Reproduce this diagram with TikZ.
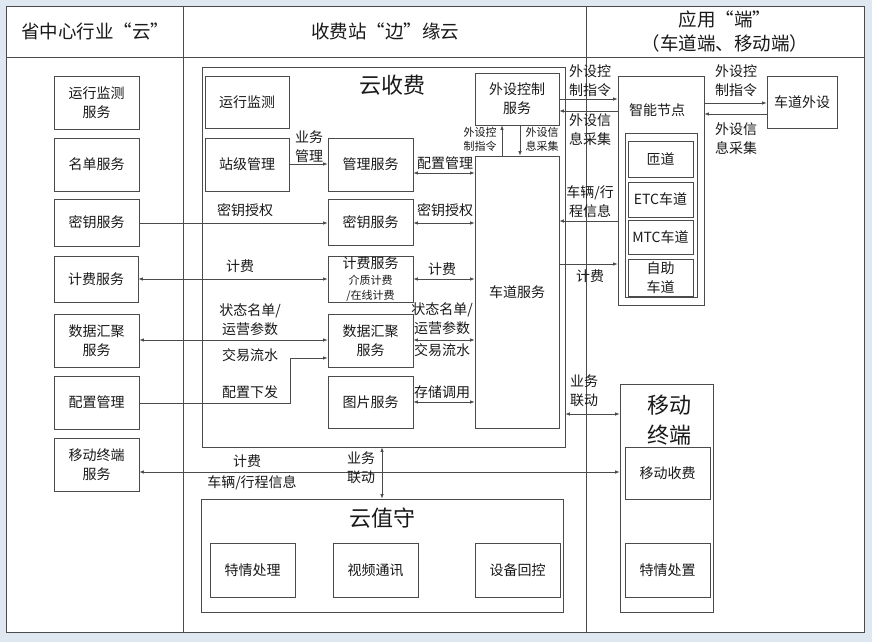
\documentclass[tikz,border=0pt]{standalone}
\usepackage{fontspec}
\setmainfont{Noto Sans CJK SC}
\usetikzlibrary{arrows.meta}
\definecolor{bg}{RGB}{223,231,241}
\definecolor{ln}{RGB}{75,75,75}
\definecolor{tx}{RGB}{25,25,25}
\newcommand\fsz[2]{\fontsize{#1pt}{#2pt}\selectfont}
\newcommand\bx[6]{\node[box,minimum width={#4-#2},minimum height={#5-#3}] (#1) at ({(#2+#4)/2},{(#3+#5)/2}) {#6};}
\begin{document}
\begin{tikzpicture}[x=1pt,y=-1pt,
  box/.style={draw=ln,line width=0.8pt,fill=white,inner sep=0pt,align=center,font=\fsz{14}{19},text=tx},
  lbl/.style={inner sep=0pt,align=center,font=\fsz{14}{19},text=tx},
  sm/.style={inner sep=0pt,align=center,font=\fsz{11}{14},text=tx},
  ttl/.style={inner sep=0pt,align=center,font=\fsz{22}{30},text=tx},
  hdr/.style={inner sep=0pt,align=center,font=\fsz{18.5}{24},text=tx},
  frame/.style={draw=ln,line width=0.9pt},
  arr/.style={draw=ln,line width=0.7pt,-{Latex[length=4.5pt,width=3.5pt]}},
  darr/.style={draw=ln,line width=0.7pt,{Latex[length=4.5pt,width=3.5pt]}-{Latex[length=4.5pt,width=3.5pt]}}]
\useasboundingbox (0,0) rectangle (872,642);
\fill[bg] (0,0) rectangle (872,642);
\draw[frame,fill=white] (6,6) rectangle (864,632);
\draw[frame] (6,57) -- (864,57);
\draw[frame] (183,6) -- (183,632);
\draw[frame] (586,6) -- (586,632);
% headers
\node[hdr] (h1) at (95,31) {省中心行业“云”};
\node[hdr] (h2) at (385,31) {收费站“边”缘云};
\node[hdr] (h3) at (725,32) {应用“端”\\（车道端、移动端）};
% left column
\bx{L1}{54}{76}{139}{129}{运行监测\\服务}
\bx{L2}{54}{138}{139}{191}{名单服务}
\bx{L3}{54}{199}{139}{246}{密钥服务}
\bx{L4}{54}{256}{138}{302}{计费服务}
\bx{L5}{54}{314}{139}{367}{数据汇聚\\服务}
\bx{L6}{54}{376}{139}{429}{配置管理}
\bx{L7}{54}{438}{139}{491}{移动终端\\服务}
% cloud toll
\bx{YSF}{202}{67}{565}{447}{}
\node[ttl] (tYSF) at (392,85) {云收费};
\bx{M0}{205}{76}{289}{128}{运行监测}
\bx{M1}{205}{138}{289}{191}{站级管理}
\bx{M2}{328}{138}{413}{191}{管理服务}
\bx{M3}{328}{199}{413}{245}{密钥服务}
\bx{M4}{328}{256}{413}{302}{}
\node[lbl] (m4a) at (370.5,263) {计费服务};
\node[sm] (m4b) at (370.5,280) {介质计费};
\node[sm] (m4c) at (370.5,296) {/在线计费};
\bx{M5}{328}{314}{413}{367}{数据汇聚\\服务}
\bx{M6}{328}{376}{413}{428}{图片服务}
\bx{PC}{475}{73}{559}{125}{外设控制\\服务}
\bx{LS}{475}{156}{559}{428}{车道服务}
% cloud duty
\bx{YZS}{201}{499}{563}{612}{}
\node[ttl] (tYZS) at (382,518) {云值守};
\bx{Z1}{210}{543}{295}{597}{特情处理}
\bx{Z2}{333}{543}{418}{597}{视频通讯}
\bx{Z3}{475}{543}{560}{597}{设备回控}
% smart node
\bx{ZN}{618}{76}{704}{305}{}
\node[lbl] (tZN) at (657,110) {智能节点};
\bx{ZNi}{625}{133}{697}{297}{}
\bx{R1}{628}{141}{693}{177}{匝道}
\bx{R2}{628}{182}{693}{217}{ETC车道}
\bx{R3}{628}{220}{693}{254}{MTC车道}
\bx{R4}{628}{259}{693}{296}{自助\\车道}
\bx{CW}{767}{76}{837}{128}{车道外设}
% mobile terminal
\bx{YD}{620}{384}{713}{612}{}
\node[ttl] (tYD) at (669,420) {移动\\终端};
\bx{D1}{625}{447}{710}{499}{移动收费}
\bx{D2}{625}{543}{710}{597}{特情处置}
% helper coordinates
\foreach \v in {99,103,111,114,164,173,221,223,264,279,340,358,402,403,414,472}{\coordinate (y\v) at (0,\v);}
\foreach \v in {290,382,502,520}{\coordinate (x\v) at (\v,0);}
% connectors: province <-> station
\draw[arr] (L3.east |- y223) -- (M3.west |- y223);
\draw[darr] (L4.east |- y279) -- (M4.west |- y279);
\draw[darr] (L5.east |- y340) -- (M5.west |- y340);
\draw[arr] (L6.east |- y403) -- (x290 |- y403) -- (x290 |- y358) -- (M5.west |- y358);
\draw[darr] (YD.west |- y472) -- (L7.east |- y472);
% inside cloud toll
\draw[arr] (M1.east |- y164) -- (M2.west |- y164);
\draw[darr] (M2.east |- y173) -- (LS.west |- y173);
\draw[darr] (M3.east |- y223) -- (LS.west |- y223);
\draw[darr] (M4.east |- y279) -- (LS.west |- y279);
\draw[darr] (M5.east |- y340) -- (LS.west |- y340);
\draw[darr] (M6.east |- y402) -- (LS.west |- y402);
\draw[arr] (LS.north -| x502) -- (PC.south -| x502);
\draw[arr] (PC.south -| x520) -- (LS.north -| x520);
% to smart node
\draw[arr] (PC.east |- y99) -- (ZN.west |- y99);
\draw[arr] (ZN.west |- y111) -- (PC.east |- y111);
\draw[arr] (ZN.west |- y221) -- (LS.east |- y221);
\draw[arr] (LS.east |- y264) -- (ZN.west |- y264);
\draw[arr] (ZN.east |- y103) -- (CW.west |- y103);
\draw[arr] (CW.west |- y114) -- (ZN.east |- y114);
\draw[darr] (YSF.east |- y414) -- (YD.west |- y414);
\draw[darr] (YSF.south -| x382) -- (YZS.north -| x382);
% labels
\node[lbl] (a1) at (245,210) {密钥授权};
\node[lbl] (a2) at (240,266) {计费};
\node[lbl] (a3) at (250,320) {状态名单/\\运营参数};
\node[lbl] (a4) at (250,355) {交易流水};
\node[lbl] (a5) at (250,392) {配置下发};
\node[lbl] (a6) at (309,147) {业务\\管理};
\node[lbl] (a7) at (445,163) {配置管理};
\node[lbl] (a8) at (445,210) {密钥授权};
\node[lbl] (a9) at (442,269) {计费};
\node[lbl] (a10) at (442,319) {状态名单/\\运营参数};
\node[lbl] (a11) at (442,350) {交易流水};
\node[lbl] (a12) at (442,392) {存储调用};
\node[sm] (a13) at (480,139) {外设控\\制指令};
\node[sm] (a14) at (542,139) {外设信\\息采集};
\node[lbl] (a15) at (590,81) {外设控\\制指令};
\node[lbl] (a16) at (590,130) {外设信\\息采集};
\node[lbl] (a17) at (590,202) {车辆/行\\程信息};
\node[lbl] (a18) at (590,276) {计费};
\node[lbl] (a19) at (736,81) {外设控\\制指令};
\node[lbl] (a20) at (736,139) {外设信\\息采集};
\node[lbl] (a21) at (584,391) {业务\\联动};
\node[lbl] (a22) at (247,461) {计费};
\node[lbl] (a23) at (252,483) {车辆/行程信息};
\node[lbl] (a24) at (361,468) {业务\\联动};
\end{tikzpicture}
\end{document}
